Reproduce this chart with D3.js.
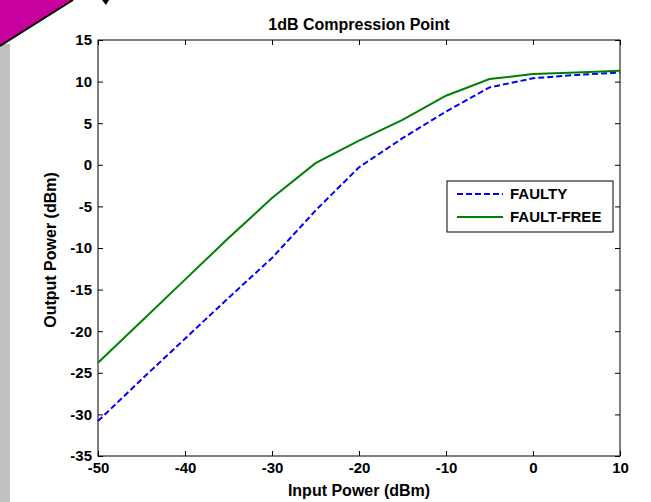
<!DOCTYPE html>
<html>
<head>
<meta charset="utf-8">
<script src="https://cdn.jsdelivr.net/npm/d3@7"></script>
<style>
  html, body { margin: 0; padding: 0; background: #fff; }
  svg { display: block; }
  text { font-family: "Liberation Sans", Arial, sans-serif; font-weight: bold; fill: #000; }
  .axis path, .axis line { stroke: #000; stroke-width: 1; }
  .axis text { font-size: 15px; }
</style>
</head>
<body>
<div id="chart"></div>
<script>
// 1dB compression point - output vs input power

const inputPower   = [-50, -45, -40, -35, -30, -25, -20, -15, -10, -5, 0, 5, 10];
const faultyOut    = [-30.8, -25.8, -20.9, -16.0, -11.2, -5.5, -0.3, 3.2, 6.4, 9.3, 10.4, 10.8, 11.1];
const faultFreeOut = [-23.8, -18.8, -13.8, -8.8, -4.0, 0.2, 2.9, 5.4, 8.3, 10.3, 10.9, 11.1, 11.3];

const xTicks = [-50, -40, -30, -20, -10, 0, 10];
const yTicks = [-35, -30, -25, -20, -15, -10, -5, 0, 5, 10, 15];

const seriesNames = ['FAULTY', 'FAULT-FREE'];

const W = 651, H = 502;
const plot = {left: 98, right: 620, top: 40, bottom: 456};

const svg = d3.select('#chart').append('svg')
    .attr('width', W)
    .attr('height', H);

// slide decoration: gray strip and magenta corner
svg.append('rect')
    .attr('x', 0).attr('y', 44)
    .attr('width', 10).attr('height', H - 44)
    .attr('fill', '#c0c0c0');

svg.append('path')
    .attr('d', 'M0,0 L73,0 L0,46 Z')
    .attr('fill', '#c8009e');
svg.append('path')
    .attr('d', 'M73,0 L0,46')
    .attr('stroke', '#000')
    .attr('stroke-width', 2);
svg.append('path')
    .attr('d', 'M102,0 L109,0 L106,5 Z')
    .attr('fill', '#000');

const x = d3.scaleLinear().domain([-50, 10]).range([plot.left, plot.right]);
const y = d3.scaleLinear().domain([-35, 15]).range([plot.bottom, plot.top]);

// plain hyphen minus, like the original
const fmt = d => String(d);

// axes box with inward ticks (matlab style)
svg.append('rect')
    .attr('x', plot.left).attr('y', plot.top)
    .attr('width', plot.right - plot.left)
    .attr('height', plot.bottom - plot.top)
    .attr('fill', '#fff')
    .attr('stroke', '#000');

svg.append('g')
    .attr('class', 'axis')
    .attr('transform', `translate(0,${plot.bottom})`)
    .call(d3.axisBottom(x).tickValues(xTicks).tickSize(-5).tickPadding(6).tickFormat(fmt))
    .call(g => g.select('.domain').remove());

svg.append('g')
    .attr('class', 'axis')
    .attr('transform', `translate(0,${plot.top})`)
    .call(d3.axisTop(x).tickValues(xTicks).tickSize(-5).tickFormat(''))
    .call(g => g.select('.domain').remove());

svg.append('g')
    .attr('class', 'axis')
    .attr('transform', `translate(${plot.left},0)`)
    .call(d3.axisLeft(y).tickValues(yTicks).tickSize(-5).tickPadding(6).tickFormat(fmt))
    .call(g => g.select('.domain').remove());

svg.append('g')
    .attr('class', 'axis')
    .attr('transform', `translate(${plot.right},0)`)
    .call(d3.axisRight(y).tickValues(yTicks).tickSize(-5).tickFormat(''))
    .call(g => g.select('.domain').remove());

// curves
const line = d3.line()
    .x((d, i) => x(inputPower[i]))
    .y(d => y(d));

svg.append('path')
    .datum(faultyOut)
    .attr('d', line)
    .attr('fill', 'none')
    .attr('stroke', '#0000ff')
    .attr('stroke-width', 2)
    .attr('stroke-dasharray', '6,3');

svg.append('path')
    .datum(faultFreeOut)
    .attr('d', line)
    .attr('fill', 'none')
    .attr('stroke', '#008000')
    .attr('stroke-width', 2);

// labels
svg.append('text')
    .attr('x', (plot.left + plot.right) / 2)
    .attr('y', 30)
    .attr('text-anchor', 'middle')
    .style('font-size', '16px')
    .text('1dB Compression Point');

svg.append('text')
    .attr('x', (plot.left + plot.right) / 2)
    .attr('y', 496)
    .attr('text-anchor', 'middle')
    .style('font-size', '16px')
    .text('Input Power (dBm)');

svg.append('text')
    .attr('transform', 'translate(56,250) rotate(-90)')
    .attr('text-anchor', 'middle')
    .style('font-size', '16px')
    .text('Output Power (dBm)');

// legend
const legend = svg.append('g').attr('transform', 'translate(447,181)');
legend.append('rect')
    .attr('width', 166).attr('height', 51)
    .attr('fill', '#fff')
    .attr('stroke', '#000');

const legendStyles = [
    {color: '#0000ff', dash: '6,3'},
    {color: '#008000', dash: null}
];

seriesNames.forEach((name, i) => {
    const ly = 13 + i * 23;
    legend.append('line')
        .attr('x1', 10).attr('x2', 56)
        .attr('y1', ly).attr('y2', ly)
        .attr('stroke', legendStyles[i].color)
        .attr('stroke-width', 2)
        .attr('stroke-dasharray', legendStyles[i].dash);
    legend.append('text')
        .attr('x', 63).attr('y', ly + 5)
        .style('font-size', '15px')
        .text(name);
});
</script>
</body>
</html>
